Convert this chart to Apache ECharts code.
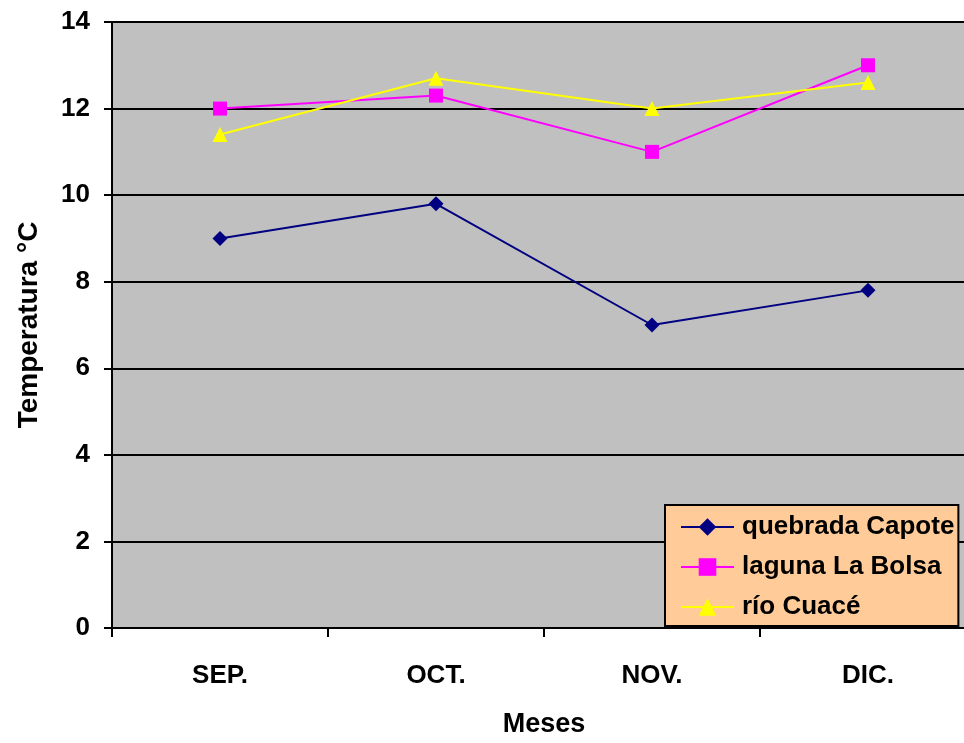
<!DOCTYPE html>
<html>
<head>
<meta charset="utf-8">
<script src="https://cdn.jsdelivr.net/npm/echarts@6/dist/echarts.min.js"></script>
<style>
  html, body { margin: 0; padding: 0; background: #fff; overflow: hidden; }
  /* the plot area runs slightly past the right edge of the window */
  #chart { width: 1000px; height: 743px; }
</style>
</head>
<body>
<div id="chart"></div>
<script>
// Meses del muestreo
const meses = ['SEP.', 'OCT.', 'NOV.', 'DIC.'];
// Temperatura (°C) por estación
const quebradaCapote = [9.0, 9.8, 7.0, 7.8];
const lagunaLaBolsa = [12.0, 12.3, 11.0, 13.0];
const rioCuace = [11.4, 12.7, 12.0, 12.6];

const fuente = 'Liberation Sans, Arial, sans-serif';
const chart = echarts.init(document.getElementById('chart'));

chart.setOption({
  animation: false,
  backgroundColor: '#ffffff',
  grid: {
    left: 112, top: 22, width: 864, height: 607,
    show: true, backgroundColor: '#c0c0c0', borderWidth: 0
  },
  xAxis: {
    type: 'category',
    data: meses,
    boundaryGap: true,
    name: 'Meses',
    nameLocation: 'middle',
    nameGap: 83,
    nameTextStyle: { fontFamily: fuente, fontWeight: 'bold', fontSize: 27, color: '#000' },
    axisLine: { lineStyle: { color: '#000', width: 2 } },
    axisTick: { show: true, length: 9, lineStyle: { color: '#000', width: 2 } },
    axisLabel: { fontFamily: fuente, fontWeight: 'bold', fontSize: 26, color: '#000', margin: 35 },
    splitLine: { show: false }
  },
  yAxis: {
    type: 'value',
    min: 0, max: 14, interval: 2,
    name: 'Temperatura °C',
    nameLocation: 'middle',
    nameGap: 69,
    nameRotate: 90,
    nameTextStyle: { fontFamily: fuente, fontWeight: 'bold', fontSize: 28, color: '#000' },
    axisLine: { show: true, lineStyle: { color: '#000', width: 2 } },
    axisTick: { show: true, length: 8, lineStyle: { color: '#000', width: 2 } },
    axisLabel: { fontFamily: fuente, fontWeight: 'bold', fontSize: 26, color: '#000', margin: 22 },
    splitLine: { show: true, lineStyle: { color: '#000', width: 2 } }
  },
  legend: {
    orient: 'vertical',
    left: 665, top: 505,
    padding: [9, 4, 6, 15],
    itemGap: 14,
    itemWidth: 53, itemHeight: 22,
    backgroundColor: '#ffcc99',
    borderColor: '#000', borderWidth: 2,
    textStyle: {
      fontFamily: fuente, fontWeight: 'bold', fontSize: 26, lineHeight: 26,
      color: '#000', padding: [0, 0, 0, 3]
    },
    data: ['quebrada Capote', 'laguna La Bolsa', 'río Cuacé']
  },
  series: [
    {
      name: 'quebrada Capote', type: 'line', data: quebradaCapote,
      symbol: 'diamond', symbolSize: 15,
      lineStyle: { color: '#000080', width: 2 },
      itemStyle: { color: '#000080' }
    },
    {
      name: 'laguna La Bolsa', type: 'line', data: lagunaLaBolsa,
      symbol: 'rect', symbolSize: 14,
      lineStyle: { color: '#ff00ff', width: 2 },
      itemStyle: { color: '#ff00ff' }
    },
    {
      name: 'río Cuacé', type: 'line', data: rioCuace,
      symbol: 'triangle', symbolSize: 15,
      lineStyle: { color: '#ffff00', width: 2 },
      itemStyle: { color: '#ffff00' }
    }
  ]
});
</script>
</body>
</html>
